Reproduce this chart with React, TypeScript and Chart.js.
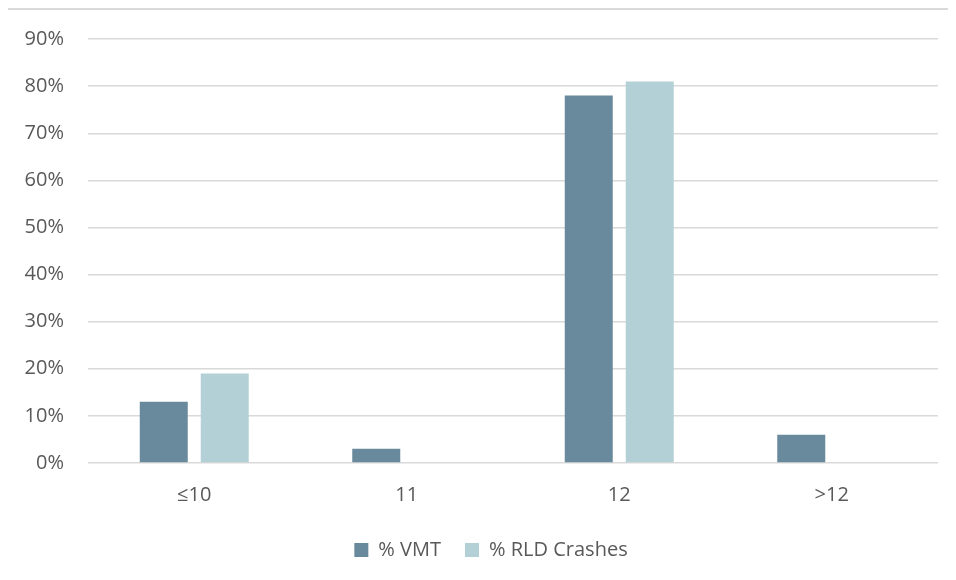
import React, { useEffect, useRef } from "react";
import { Chart, registerables } from "chart.js";

Chart.register(...registerables);

const categories = ["≤10", "11", "12", ">12"];
const vmtShare = [13, 3, 78, 6];
const rldCrashShare = [19, 0, 81, 0];
const yTicks = [0, 10, 20, 30, 40, 50, 60, 70, 80, 90];

const TEXT = "#595959";
const GRID = "#d9d9d9";
const FONT = "'Open Sans', sans-serif";

// Nudge the bottom legend so it sits centred under the whole frame
const legendOffset = {
  id: "legendOffset",
  afterLayout(chart: any) {
    if (chart.legend) chart.legend.left += 36;
  },
};

export default function App() {
  const canvasRef = useRef<HTMLCanvasElement | null>(null);

  useEffect(() => {
    const prevHtml = document.documentElement.style.overflow;
    const prevBody = document.body.style.overflow;
    document.documentElement.style.overflow = "hidden";
    document.body.style.overflow = "hidden";

    const canvas = canvasRef.current;
    if (!canvas) return;
    const chart = new Chart(canvas, {
      type: "bar",
      data: {
        labels: categories,
        datasets: [
          {
            label: "% VMT",
            data: vmtShare,
            backgroundColor: "#688a9c",
            categoryPercentage: 0.574,
            barPercentage: 0.787,
          },
          {
            label: "% RLD Crashes",
            data: rldCrashShare,
            backgroundColor: "#b3d0d6",
            categoryPercentage: 0.574,
            barPercentage: 0.787,
          },
        ],
      },
      options: {
        responsive: false,
        animation: false,
        layout: { padding: { top: 39, right: 18, left: 0, bottom: 10 } },
        scales: {
          x: {
            afterFit: (scale: any) => {
              scale.height = 53;
            },
            grid: { display: false, drawTicks: false },
            border: { display: false },
            ticks: { color: TEXT, font: { family: FONT, size: 20 }, padding: 20 },
          },
          y: {
            min: 0,
            max: 90,
            afterFit: (scale: any) => {
              scale.width = 80;
            },
            afterBuildTicks: (scale: any) => {
              scale.ticks = yTicks.map((v) => ({ value: v }));
            },
            grid: { color: GRID, lineWidth: 1.4, drawTicks: false },
            border: { display: false },
            ticks: {
              color: TEXT,
              font: { family: FONT, size: 20 },
              padding: 24,
              callback: (v: any) => `${v}%`,
            },
          },
        },
        plugins: {
          legend: {
            position: "bottom",
            labels: {
              color: TEXT,
              font: { family: FONT, size: 20 },
              boxWidth: 14,
              boxHeight: 14,
              padding: 24,
            },
          },
          tooltip: { enabled: false },
        },
      },
      plugins: [legendOffset],
    });
    return () => {
      chart.destroy();
      document.documentElement.style.overflow = prevHtml;
      document.body.style.overflow = prevBody;
    };
  }, []);

  return (
    <div style={{ position: "relative", width: 948, height: 560 }}>
      <div
        style={{
          position: "absolute",
          left: -2,
          top: 0,
          width: 948,
          height: 572,
          borderLeft: `2px solid ${GRID}`,
          borderTop: `2px solid ${GRID}`,
          background: "#fff",
        }}
      />
      <canvas
        ref={canvasRef}
        width={948}
        height={580}
        style={{ position: "absolute", left: 0, top: -8, display: "block" }}
      />
    </div>
  );
}
